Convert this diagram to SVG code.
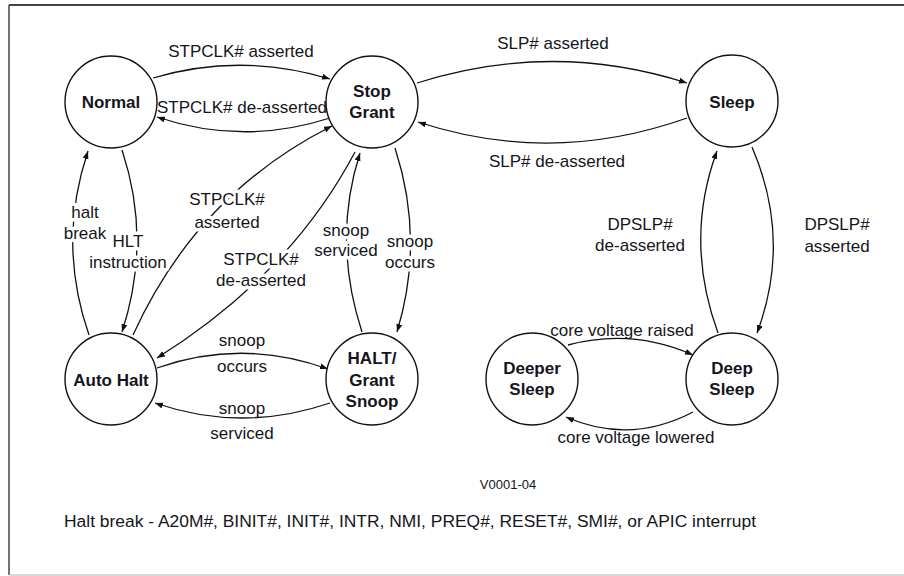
<svg xmlns="http://www.w3.org/2000/svg" width="904" height="576" viewBox="0 0 904 576">
<style>
.node{fill:#fff;stroke:#111;stroke-width:1.4}
.nl{font-family:"Liberation Sans",Arial,sans-serif;font-size:17px;font-weight:bold;fill:#151520;text-anchor:middle}
.el{font-family:"Liberation Sans",Arial,sans-serif;font-size:17px;fill:#151520;text-anchor:middle}
.halo{stroke:#fff;stroke-width:7px;stroke-linejoin:round;paint-order:stroke}
.edge{fill:none;stroke:#111;stroke-width:1.3;marker-end:url(#ah)}
</style>
<defs>
<marker id="ah" markerWidth="9" markerHeight="7" refX="8" refY="3" orient="auto" markerUnits="userSpaceOnUse">
<path d="M0,0 L8,3 L0,6 z" fill="#111"/>
</marker>
</defs>
<rect width="904" height="576" fill="#fff"/>
<line x1="9" y1="5" x2="904" y2="5" stroke="#444" stroke-width="2"/>
<line x1="9" y1="5" x2="9" y2="575" stroke="#444" stroke-width="1.5"/>
<line x1="9" y1="575" x2="904" y2="575" stroke="#ccc" stroke-width="1.5"/>

<g id="connectors">
<path class="edge" d="M153,78 Q241,52 330,79"/>
<path class="edge" d="M330,118 Q243,146 157,117"/>
<path class="edge" d="M417,83 Q552,40 687,83"/>
<path class="edge" d="M687,118 Q552,166 418,122"/>
<path class="edge" d="M157,368 Q242,338 328,369"/>
<path class="edge" d="M330,403 Q242,433 155,403"/>
<path class="edge" d="M568,345 Q632,328 693,355"/>
<path class="edge" d="M693,412 Q630,445 566,417"/>
<path class="edge" d="M122,150 Q152,240 122,332"/>
<path class="edge" d="M89,335 Q57,243 88,151"/>
<path class="edge" d="M395,148 Q425,240 397,332"/>
<path class="edge" d="M362,332 Q332,240 360,153"/>
<path class="edge" d="M752,147 Q792,240 757,333"/>
<path class="edge" d="M718,333 Q684,240 717,151"/>
<path class="edge" d="M133,335 Q197.5,193.5 332,126"/>
<path class="edge" d="M355,152 Q290,275 157,358"/>
</g>

<g id="edge-labels">
<text class="el" x="241" y="57">STPCLK# asserted</text>
<text class="el" x="242" y="113">STPCLK# de-asserted</text>
<text class="el" x="553" y="49">SLP# asserted</text>
<text class="el" x="557" y="167">SLP# de-asserted</text>
<text class="el halo" x="85" y="218">halt</text>
<text class="el halo" x="85" y="239">break</text>
<text class="el halo" x="128" y="247">HLT</text>
<text class="el halo" x="128" y="268">instruction</text>
<text class="el halo" x="227" y="205">STPCLK#</text>
<text class="el halo" x="227" y="228">asserted</text>
<text class="el halo" x="261" y="265">STPCLK#</text>
<text class="el halo" x="261" y="286">de-asserted</text>
<text class="el halo" x="346" y="236">snoop</text>
<text class="el halo" x="346" y="256">serviced</text>
<text class="el halo" x="410" y="247">snoop</text>
<text class="el halo" x="410" y="268">occurs</text>
<text class="el" x="242" y="346">snoop</text>
<text class="el" x="242" y="372">occurs</text>
<text class="el" x="242" y="414">snoop</text>
<text class="el" x="242" y="439">serviced</text>
<text class="el" x="640" y="230">DPSLP#</text>
<text class="el" x="640" y="251">de-asserted</text>
<text class="el" x="837" y="230">DPSLP#</text>
<text class="el" x="837" y="252">asserted</text>
<text class="el" x="622" y="336">core voltage raised</text>
<text class="el" x="636" y="443">core voltage lowered</text>
</g>

<g id="normal"><circle class="node" cx="111" cy="102" r="46"/><text class="nl" x="111" y="108">Normal</text></g>
<g id="stop-grant"><circle class="node" cx="372" cy="102" r="46"/><text class="nl" x="372" y="97">Stop</text><text class="nl" x="372" y="118">Grant</text></g>
<g id="sleep"><circle class="node" cx="732" cy="101" r="46"/><text class="nl" x="732" y="108">Sleep</text></g>
<g id="auto-halt"><circle class="node" cx="111" cy="379" r="46"/><text class="nl" x="111" y="386">Auto Halt</text></g>
<g id="halt-grant-snoop"><circle class="node" cx="372" cy="379" r="46"/><text class="nl" x="372" y="364">HALT/</text><text class="nl" x="372" y="386">Grant</text><text class="nl" x="372" y="407">Snoop</text></g>
<g id="deeper-sleep"><circle class="node" cx="532" cy="379" r="46"/><text class="nl" x="532" y="374">Deeper</text><text class="nl" x="532" y="395">Sleep</text></g>
<g id="deep-sleep"><circle class="node" cx="732" cy="379" r="46"/><text class="nl" x="732" y="374">Deep</text><text class="nl" x="732" y="395">Sleep</text></g>

<text x="508" y="489" font-family="Liberation Sans, Arial, sans-serif" font-size="13" fill="#151520" text-anchor="middle">V0001-04</text>
<text x="64" y="527" font-family="Liberation Sans, Arial, sans-serif" font-size="17.4" fill="#151520" textLength="692" lengthAdjust="spacingAndGlyphs">Halt break - A20M#, BINIT#, INIT#, INTR, NMI, PREQ#, RESET#, SMI#, or APIC interrupt</text>
</svg>
